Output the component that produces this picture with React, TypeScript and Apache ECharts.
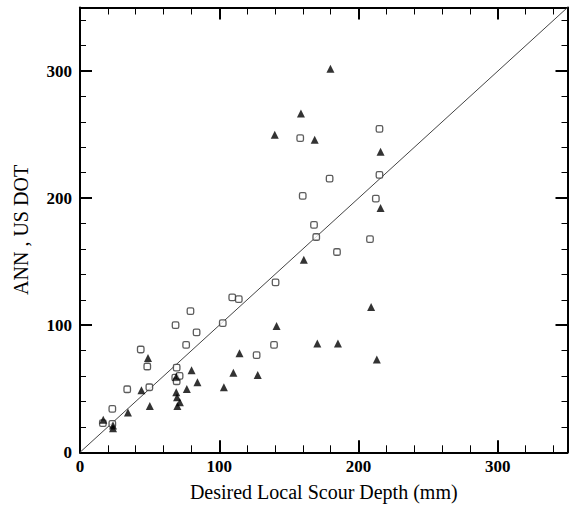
import React, { useEffect, useRef } from "react";
import * as echarts from "echarts";

// Open squares
const annX = [16.4, 23.2, 23.2, 33.9, 43.6, 48.3, 49.8, 68.6, 69.4, 68.4, 69.4, 71.5, 76.2, 79.3, 83.7, 102.5, 109.3, 114.0, 126.8, 139.3, 140.4, 158.1, 159.9, 168.0, 169.6, 179.2, 184.5, 208.2, 212.4, 215.0, 215.0];
const annY = [22.9, 34.1, 22.4, 49.6, 80.9, 67.5, 51.2, 100.1, 66.7, 58.8, 55.9, 60.2, 84.6, 111.1, 94.3, 101.7, 121.9, 120.6, 76.4, 84.6, 133.7, 247.2, 201.7, 178.9, 169.4, 215.4, 157.6, 167.8, 199.6, 254.5, 218.3];

// Filled triangles
const dotX = [16.7, 23.7, 23.7, 34.4, 44.1, 48.8, 50.1, 69.1, 69.1, 69.7, 69.9, 71.7, 76.7, 80.1, 84.3, 103.3, 110.1, 114.5, 127.6, 139.8, 141.1, 158.6, 160.7, 168.5, 170.4, 179.8, 185.2, 209.0, 213.1, 215.8, 215.8];
const dotY = [25.7, 18.9, 21.0, 31.3, 48.9, 74.3, 36.5, 59.4, 47.3, 43.3, 36.5, 39.4, 49.9, 64.6, 55.2, 51.2, 62.5, 78.0, 60.9, 249.8, 99.3, 266.6, 151.6, 245.9, 85.6, 301.8, 85.6, 114.3, 73.0, 236.4, 192.3];

// Line of perfect agreement
const identityX = [0, 350];
const identityY = [0, 350];

const axisMin = 0;
const axisMax = 350;
const majorStep = 100;
const minorStep = 20;

const xTitle = "Desired Local Scour Depth (mm)";
const yTitle = "ANN , US DOT";

const FONT = "Liberation Serif";

export default function App() {
  const ref = useRef<HTMLDivElement>(null);

  useEffect(() => {
    if (!ref.current) return;
    const chart = echarts.init(ref.current, undefined, { renderer: "svg" });

    const labelStyle = {
      fontFamily: FONT,
      fontSize: 17,
      fontWeight: "bold" as const,
      color: "#000",
    };

    const majorAxis = (pos: string, isX: boolean, withLabels: boolean) => ({
      type: "value",
      position: pos,
      min: axisMin,
      max: axisMax,
      interval: majorStep,
      splitLine: { show: false },
      axisLine: { show: true, onZero: false, lineStyle: { color: "#000", width: 2 } },
      axisTick: { show: true, inside: true, length: 12, lineStyle: { color: "#000", width: 2 } },
      axisLabel: withLabels
        ? { show: true, showMaxLabel: false, margin: isX ? 6 : 8, ...labelStyle }
        : { show: false },
      ...(withLabels
        ? {
            name: isX ? xTitle : yTitle,
            nameLocation: "middle",
            nameGap: isX ? 30 : 49,
            nameTextStyle: { fontFamily: FONT, fontSize: 20, color: "#000" },
          }
        : {}),
    });

    const minorAxis = (pos: string, isX: boolean) => ({
      type: "value",
      position: pos,
      min: axisMin,
      max: axisMax,
      interval: minorStep,
      splitLine: { show: false },
      axisLine: { show: false, onZero: false },
      axisTick: { show: true, inside: true, length: isX ? 7 : 6, lineStyle: { color: "#000", width: 1 } },
      axisLabel: { show: false },
    });

    chart.setOption({
      animation: false,
      backgroundColor: "#fff",
      grid: { left: 80, right: 1.5, top: 7.5, bottom: 55.7, containLabel: false },
      xAxis: [
        majorAxis("bottom", true, true),
        minorAxis("bottom", true),
        majorAxis("top", true, false),
        minorAxis("top", true),
      ],
      yAxis: [
        majorAxis("left", false, true),
        minorAxis("left", false),
        majorAxis("right", false, false),
        minorAxis("right", false),
      ],
      series: [
        {
          type: "line",
          xAxisIndex: 0,
          yAxisIndex: 0,
          data: identityX.map((x, i) => [x, identityY[i]]),
          symbol: "none",
          lineStyle: { color: "#444", width: 1 },
          z: 1,
        },
        {
          type: "scatter",
          xAxisIndex: 0,
          yAxisIndex: 0,
          data: annX.map((x, i) => [x, annY[i]]),
          symbol: "roundRect",
          symbolSize: 6.5,
          itemStyle: { color: "#fff", borderColor: "#333", borderWidth: 1.3 },
          z: 3,
        },
        {
          type: "scatter",
          xAxisIndex: 0,
          yAxisIndex: 0,
          data: dotX.map((x, i) => [x, dotY[i]]),
          symbol: "triangle",
          symbolSize: 8,
          itemStyle: { color: "#000" },
          z: 4,
        },
      ],
    });

    return () => chart.dispose();
  }, []);

  return (
    <div
      ref={ref}
      style={{ position: "fixed", left: 0, top: 0, width: 569, height: 508, background: "#fff" }}
    />
  );
}
